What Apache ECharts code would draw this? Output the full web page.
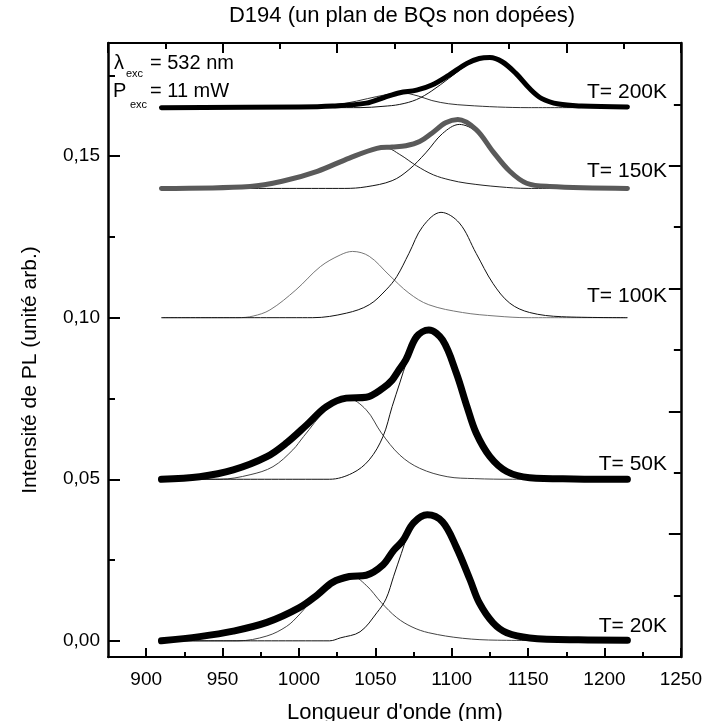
<!DOCTYPE html>
<html>
<head>
<meta charset="utf-8">
<script src="https://cdn.jsdelivr.net/npm/echarts@6/dist/echarts.min.js"></script>
<style>html,body{margin:0;padding:0;background:#fff}#c{width:705px;height:721px}</style>
</head>
<body>
<div id="c"></div>
<script>
// ---- tick values ----
const wavelengthTicks = [900, 950, 1000, 1050, 1100, 1150, 1200, 1250];
const wavelengthMinorTicks = [925, 975, 1025, 1075, 1125, 1175, 1225];
const intensityTicks = [0, 0.05, 0.10, 0.15];
const intensityMinorTicks = [0.025, 0.075, 0.125, 0.175];

// ---- labels and offsets ----
const tempLabels = ['T= 20K', 'T= 50K', 'T= 100K', 'T= 150K', 'T= 200K'];
const baselines = [0, 0.05, 0.10, 0.14, 0.165];

// ---- spectra (intensity above each baseline), [nm, value] ----
const t20Data = [[910,0],[935,0.0013],[957,0.003],[979,0.0057],[1000,0.0102],[1012,0.0142],[1022,0.0181],[1033,0.0199],[1044,0.0203],[1055,0.0235],[1062,0.028],[1068,0.031],[1075,0.0365],[1084,0.039],[1094,0.0368],[1103,0.029],[1112,0.0189],[1118,0.0118],[1127,0.0056],[1136,0.0025],[1151,0.0009],[1183,0.0003],[1215,0.0002]];
const t20Fit1 = [[910,0],[960,0],[979,0.0015],[992,0.0045],[1000,0.008],[1009,0.0127],[1022,0.0175],[1034,0.0202],[1044,0.0172],[1054,0.0118],[1064,0.0072],[1074,0.0043],[1085,0.0025],[1107,0.0008],[1130,0.0002],[1215,0]];
const t20Fit2 = [[910,0],[1020,0],[1027,0.0009],[1040,0.0028],[1051,0.0087],[1057,0.013],[1062,0.02],[1067,0.027],[1072,0.0335],[1078,0.0372],[1084,0.0385],[1094,0.0366],[1103,0.029],[1112,0.0189],[1118,0.0118],[1127,0.0056],[1136,0.0025],[1151,0.0009],[1170,0.0002],[1215,0]];

const t50Data = [[910,0],[935,0.0008],[957,0.0029],[979,0.007],[992,0.0113],[1005,0.0168],[1018,0.0225],[1031,0.0251],[1044,0.0254],[1055,0.0282],[1061,0.0307],[1065,0.0335],[1070,0.037],[1077,0.0441],[1085,0.0462],[1094,0.0431],[1103,0.0329],[1110,0.0225],[1116,0.0143],[1125,0.007],[1136,0.0024],[1151,0.0005],[1180,0.0001],[1215,0]];
const t50Fit1 = [[910,0],[948,0],[968,0.0014],[983,0.0039],[996,0.0091],[1003,0.0132],[1018,0.0215],[1032,0.025],[1044,0.0215],[1054,0.0143],[1066,0.0075],[1079,0.0034],[1097,0.0008],[1115,0.0002],[1140,0],[1215,0]];
const t50Fit2 = [[910,0],[1020,0],[1035,0.0019],[1046,0.006],[1055,0.0132],[1061,0.0225],[1066,0.0298],[1071,0.037],[1077,0.0435],[1085,0.0458],[1094,0.0431],[1103,0.0329],[1110,0.0225],[1116,0.0143],[1125,0.007],[1136,0.0024],[1151,0.0005],[1175,0],[1215,0]];

const t100Fit1 = [[910,0],[960,0],[970,0.0005],[981,0.0024],[998,0.0086],[1014,0.0158],[1027,0.0194],[1035,0.0205],[1046,0.019],[1059,0.0132],[1072,0.0076],[1085,0.004],[1107,0.0016],[1129,0.0005],[1150,0],[1215,0]];
const t100Fit2 = [[910,0],[1009,0],[1031,0.0014],[1046,0.004],[1057,0.0086],[1064,0.0127],[1072,0.0199],[1081,0.0282],[1093,0.0326],[1105,0.0293],[1116,0.0199],[1127,0.0106],[1138,0.0045],[1151,0.0016],[1172,0.0003],[1215,0]];

const t150Data = [[910,0],[968,0.0006],[989,0.0022],[1012,0.0053],[1033,0.0094],[1051,0.0124],[1061,0.0128],[1070,0.0132],[1079,0.0145],[1087,0.0171],[1096,0.0203],[1104,0.0213],[1116,0.0182],[1127,0.0114],[1138,0.0053],[1149,0.0016],[1164,0.0006],[1215,0]];
const t150Fit1 = [[910,0],[950,0],[968,0.0006],[989,0.0021],[1012,0.0052],[1033,0.0093],[1048,0.0118],[1057,0.0125],[1066,0.0105],[1077,0.007],[1088,0.0042],[1099,0.0026],[1110,0.0016],[1131,0.0005],[1150,0],[1215,0]];
const t150Fit2 = [[910,0],[1030,0],[1044,0.0005],[1061,0.0024],[1072,0.0058],[1083,0.011],[1094,0.017],[1105,0.0198],[1116,0.0176],[1127,0.0112],[1138,0.0053],[1149,0.0016],[1164,0.0005],[1180,0],[1215,0]];

const t200Data = [[910,0],[1000,0.0002],[1022,0.0005],[1044,0.0014],[1056,0.0032],[1066,0.0046],[1077,0.0054],[1087,0.007],[1098,0.01],[1110,0.0137],[1118,0.0152],[1125,0.0155],[1133,0.0142],[1142,0.0106],[1151,0.0059],[1159,0.0028],[1170,0.0011],[1185,0.0005],[1215,0.0002]];
const t200Fit1 = [[910,0],[990,0],[1010,0.0004],[1030,0.0013],[1045,0.0028],[1057,0.004],[1067,0.0046],[1078,0.0036],[1087,0.0022],[1098,0.0012],[1110,0.0007],[1130,0.0002],[1150,0],[1215,0]];
const t200Fit2 = [[910,0],[1040,0],[1055,0.0004],[1066,0.001],[1077,0.0025],[1087,0.0052],[1098,0.009],[1110,0.0132],[1118,0.015],[1125,0.0153],[1133,0.0141],[1142,0.0105],[1151,0.0058],[1159,0.0028],[1170,0.0011],[1185,0.0004],[1200,0],[1215,0]];

// ---- build ----
const FONT = 'Liberation Sans, Arial, sans-serif';
function shift(arr, off) { return arr.map(p => [p[0], +(p[1] + off).toFixed(5)]); }
function thin(data, off, color) {
  return { type: 'line', xAxisIndex: 0, yAxisIndex: 0, data: shift(data, off), showSymbol: false, smooth: 0.35,
    lineStyle: { color: color, width: 1 }, silent: true, z: 2 };
}
function thick(data, off, color, w) {
  return { type: 'line', xAxisIndex: 0, yAxisIndex: 0, data: shift(data, off), showSymbol: false, smooth: 0.35,
    lineStyle: { color: color, width: w, cap: 'round', join: 'round' }, silent: true, z: 3 };
}
const series = [
  thin(t20Fit1, baselines[0], '#444'), thin(t20Fit2, baselines[0], '#111'),
  thin(t50Fit1, baselines[1], '#444'), thin(t50Fit2, baselines[1], '#111'),
  thin(t100Fit1, baselines[2], '#777'), thin(t100Fit2, baselines[2], '#111'),
  thin(t150Fit1, baselines[3], '#222'), thin(t150Fit2, baselines[3], '#111'),
  thin(t200Fit1, baselines[4], '#333'), thin(t200Fit2, baselines[4], '#111'),
  thick(t20Data, baselines[0], '#000', 7),
  thick(t50Data, baselines[1], '#000', 7),
  thick(t150Data, baselines[3], '#5a5a5a', 5),
  thick(t200Data, baselines[4], '#000', 5)
];

// plot frame
const L = 108, R = 24, T = 43, B = 64;
const tickStyle = { color: '#000', width: 2 };
const X_RANGE = { min: 875, max: 1250 };
const Y_RANGE = { min: -0.005, max: 0.185 };
// Tick-only grids: each is shifted by its tick length so outward ticks land inside the frame
const grids = [
  { left: L, right: R, top: T, bottom: B },          // 0 main
  { left: L, right: R, top: T, bottom: B + 9 },      // 1 bottom major ticks
  { left: L, right: R, top: T, bottom: B + 5 },      // 2 bottom minor ticks
  { left: L + 12, right: R, top: T, bottom: B },     // 3 left major ticks
  { left: L + 7, right: R, top: T, bottom: B }       // 4 left minor ticks
];
const noZero = { onZero: false };
const hiddenX = gi => ({ gridIndex: gi, type: 'value', show: false, ...X_RANGE, axisLine: { show: false, onZero: false } });
const hiddenY = gi => ({ gridIndex: gi, type: 'value', show: false, ...Y_RANGE, axisLine: { show: false, onZero: false } });

const chart = echarts.init(document.getElementById('c'), null, { renderer: 'canvas' });
const labelPos = [[667, 626], [667, 464], [667, 296], [667, 171], [667, 92]];

const graphic = [
  { type: 'text', x: 402, y: 16, style: { text: 'D194 (un plan de BQs non dopées)', font: '22px ' + FONT, fill: '#000', textAlign: 'center', textVerticalAlign: 'middle' } },
  { type: 'text', x: 395, y: 713, style: { text: "Longueur d'onde (nm)", font: '22px ' + FONT, fill: '#000', textAlign: 'center', textVerticalAlign: 'middle' } },
  { type: 'text', x: 30, y: 370, rotation: Math.PI / 2, style: { text: 'Intensité de PL (unité arb.)', font: '21px ' + FONT, fill: '#000', textAlign: 'center', textVerticalAlign: 'middle' } },
  { type: 'text', x: 114, y: 63, style: { text: 'λ', font: '20px ' + FONT, fill: '#000', textVerticalAlign: 'middle' } },
  { type: 'text', x: 126, y: 74, style: { text: 'exc', font: '11px ' + FONT, fill: '#000', textVerticalAlign: 'middle' } },
  { type: 'text', x: 150, y: 63, style: { text: '= 532 nm', font: '20px ' + FONT, fill: '#000', textVerticalAlign: 'middle' } },
  { type: 'text', x: 113, y: 91, style: { text: 'P', font: '20px ' + FONT, fill: '#000', textVerticalAlign: 'middle' } },
  { type: 'text', x: 130, y: 105, style: { text: 'exc', font: '11px ' + FONT, fill: '#000', textVerticalAlign: 'middle' } },
  { type: 'text', x: 150, y: 91, style: { text: '= 11 mW', font: '20px ' + FONT, fill: '#000', textVerticalAlign: 'middle' } }
];
tempLabels.forEach((t, i) => {
  graphic.push({ type: 'text', x: labelPos[i][0], y: labelPos[i][1], style: { text: t, font: '21px ' + FONT, fill: '#000', textAlign: 'right', textVerticalAlign: 'middle' } });
});

chart.setOption({
  animation: false,
  backgroundColor: '#fff',
  grid: grids.map(g => Object.assign({ containLabel: false }, g)),
  xAxis: [
    // 0: main bottom axis with labels
    { gridIndex: 0, type: 'value', ...X_RANGE, position: 'bottom',
      axisLine: { show: true, onZero: false, lineStyle: { color: '#000', width: 2 } },
      axisTick: { show: false },
      axisLabel: { show: true, customValues: wavelengthTicks, margin: 13, color: '#000', fontSize: 19, fontFamily: FONT,
        formatter: v => String(Math.round(v)) },
      splitLine: { show: false } },
    // 1: top frame axis
    { gridIndex: 0, type: 'value', min: 0, max: 10, interval: 2, position: 'top',
      axisLine: { show: true, onZero: false, lineStyle: { color: '#000', width: 2 } },
      axisTick: { show: true, inside: true, length: 10, lineStyle: tickStyle },
      minorTick: { show: true, splitNumber: 2, length: 6, lineStyle: tickStyle },
      axisLabel: { show: false }, splitLine: { show: false }, minorSplitLine: { show: false } },
    // 2: bottom major ticks
    { gridIndex: 1, type: 'value', ...X_RANGE, position: 'bottom',
      axisLine: { show: false, onZero: false },
      axisTick: { show: true, inside: false, length: 9, customValues: wavelengthTicks, lineStyle: tickStyle },
      axisLabel: { show: false }, splitLine: { show: false } },
    // 3: bottom minor ticks
    { gridIndex: 2, type: 'value', ...X_RANGE, position: 'bottom',
      axisLine: { show: false, onZero: false },
      axisTick: { show: true, inside: false, length: 5, customValues: wavelengthMinorTicks, lineStyle: tickStyle },
      axisLabel: { show: false }, splitLine: { show: false } },
    hiddenX(3), hiddenX(4)
  ],
  yAxis: [
    // 0: main left axis with labels
    { gridIndex: 0, type: 'value', ...Y_RANGE, position: 'left',
      axisLine: { show: true, onZero: false, lineStyle: { color: '#000', width: 2.5 } },
      axisTick: { show: false },
      axisLabel: { show: true, customValues: intensityTicks, margin: 8, color: '#000', fontSize: 19, fontFamily: FONT,
        formatter: v => Number(v).toFixed(2).replace('.', ',') },
      splitLine: { show: false } },
    // 1: right frame axis
    { gridIndex: 0, type: 'value', min: 0, max: 10, interval: 2, position: 'right',
      axisLine: { show: true, onZero: false, lineStyle: { color: '#000', width: 2.5 } },
      axisTick: { show: true, inside: true, length: 12, lineStyle: tickStyle },
      minorTick: { show: true, splitNumber: 2, length: 7, lineStyle: tickStyle },
      axisLabel: { show: false }, splitLine: { show: false }, minorSplitLine: { show: false } },
    hiddenY(1), hiddenY(2),
    // 4: left major ticks
    { gridIndex: 3, type: 'value', ...Y_RANGE, position: 'left',
      axisLine: { show: false, onZero: false },
      axisTick: { show: true, inside: false, length: 12, customValues: intensityTicks, lineStyle: tickStyle },
      axisLabel: { show: false }, splitLine: { show: false } },
    // 5: left minor ticks
    { gridIndex: 4, type: 'value', ...Y_RANGE, position: 'left',
      axisLine: { show: false, onZero: false },
      axisTick: { show: true, inside: false, length: 7, customValues: intensityMinorTicks, lineStyle: tickStyle },
      axisLabel: { show: false }, splitLine: { show: false } }
  ],
  series: series,
  graphic: graphic
});
</script>
</body>
</html>
